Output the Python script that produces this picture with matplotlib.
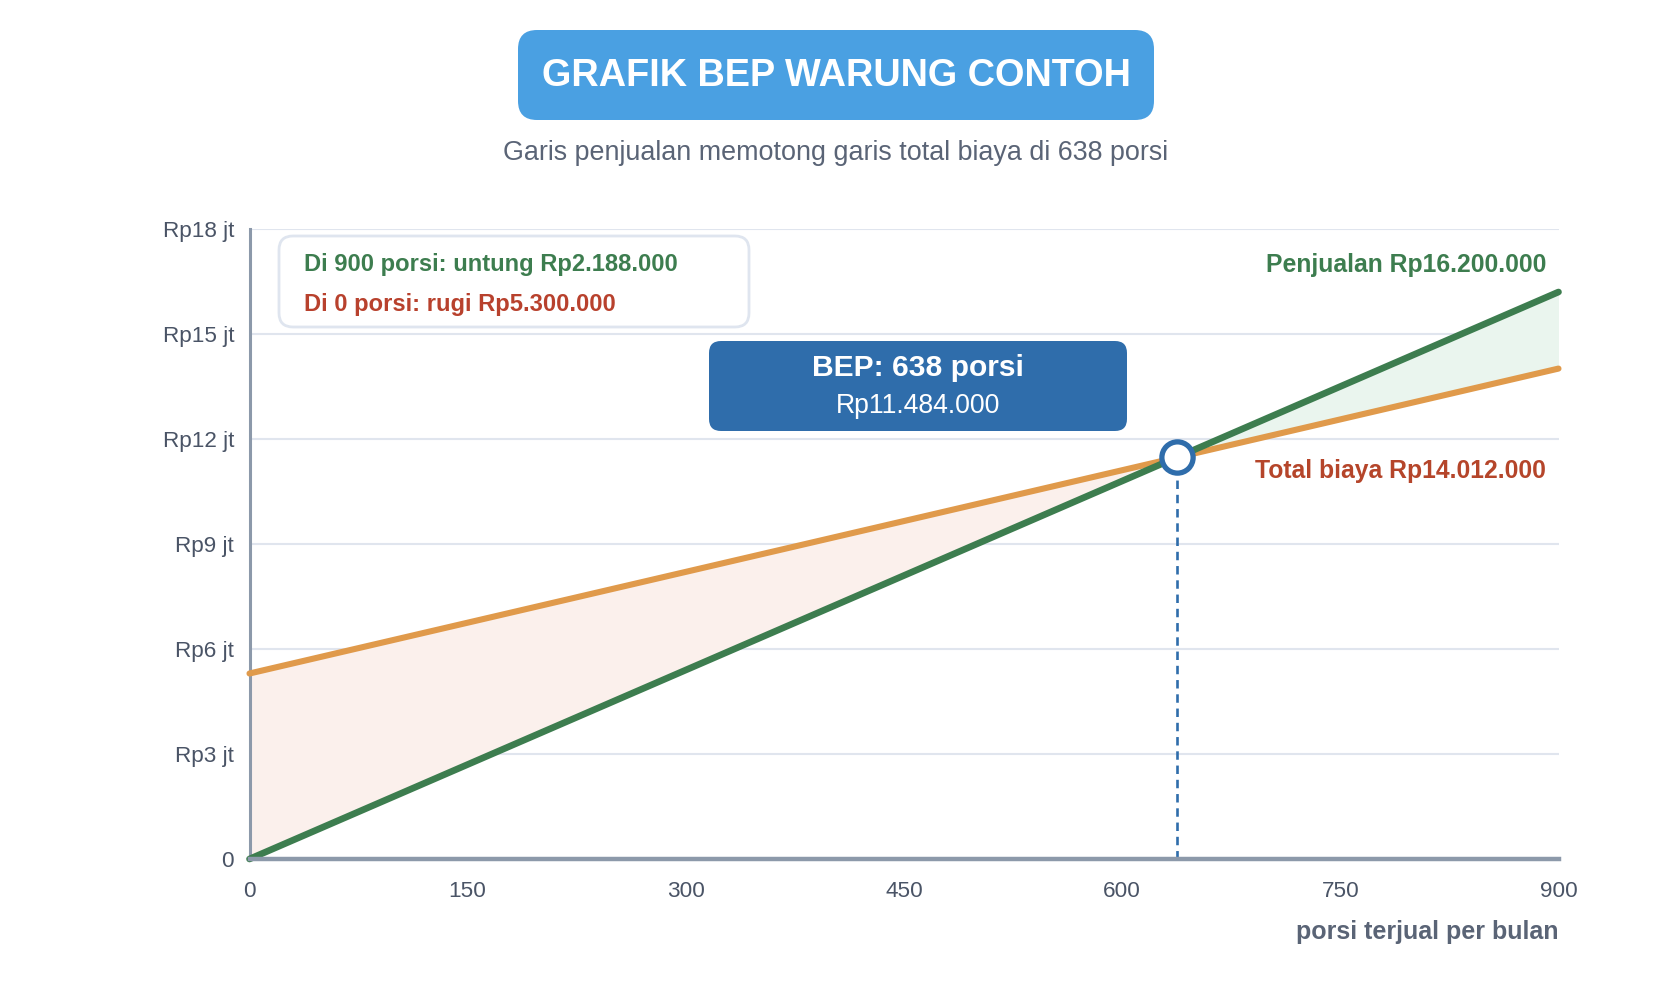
import matplotlib

matplotlib.use("Agg")
import matplotlib.pyplot as plt
from matplotlib.patches import FancyBboxPatch
from matplotlib.ticker import FuncFormatter

plt.rcParams["font.family"] = ["Liberation Sans", "DejaVu Sans"]

# data
porsi = [0, 900]
penjualan = [0, 16_200_000]
total_biaya = [5_300_000, 14_012_000]
bep_porsi = 638
bep_rp = 11_484_000
x_ticks = [0, 150, 300, 450, 600, 750, 900]
y_ticks = [0, 3e6, 6e6, 9e6, 12e6, 15e6, 18e6]

W, H = 1672, 1000
GREEN = "#3d7d4f"
ORANGE = "#e09a4b"
RED = "#b8412d"
BLUE = "#2f6dab"
GRAY = "#5a6476"


def px(x, y):
    return x / W, 1 - y / H


def rbox(fig, x0, y0, x1, y1, r, face, edge="none", lw=0, z=5):
    # rounded box given in pixel coords (top-left origin)
    fx, fy = px(x0, y1)
    box = FancyBboxPatch(
        (fx, fy), (x1 - x0) / W, (y1 - y0) / H,
        boxstyle=f"round,pad=0,rounding_size={r / W}",
        mutation_aspect=W / H, transform=fig.transFigure,
        facecolor=face, edgecolor=edge, linewidth=lw, zorder=z,
    )
    fig.add_artist(box)


fig = plt.figure(figsize=(W / 100, H / 100), dpi=100)
ax = fig.add_axes([249.5 / W, 1 - 859 / H, 1309 / W, 630 / H])

# shaded loss / profit zones
ax.fill_between(porsi, penjualan, total_biaya,
                where=[c >= s for c, s in zip(total_biaya, penjualan)],
                interpolate=True, color="#fbf0ec", lw=0, zorder=1)
ax.fill_between(porsi, penjualan, total_biaya,
                where=[s >= c for c, s in zip(total_biaya, penjualan)],
                interpolate=True, color="#eaf5ee", lw=0, zorder=1)

ax.plot(porsi, total_biaya, color=ORANGE, lw=4.4, solid_capstyle="round",
        clip_on=False, zorder=3)
ax.plot(porsi, penjualan, color=GREEN, lw=4.8, solid_capstyle="round",
        clip_on=False, zorder=4)

ax.plot([bep_porsi, bep_porsi], [0, bep_rp], color=BLUE, lw=1.9,
        ls=(0, (3.2, 2.2)), zorder=4)
ax.plot([bep_porsi], [bep_rp], marker="o", ms=22.5, mfc="white", mec=BLUE,
        mew=3.8, zorder=6, clip_on=False)

ax.set_xlim(0, 900)
ax.set_ylim(0, 18e6)
ax.set_xticks(x_ticks)
ax.set_yticks(y_ticks)
ax.yaxis.set_major_formatter(
    FuncFormatter(lambda v, p: "0" if v == 0 else f"Rp{v / 1e6:.0f} jt"))
ax.tick_params(axis="both", length=0, labelsize=16.2, labelcolor="#4a5466")
ax.tick_params(axis="y", pad=11)
ax.tick_params(axis="x", pad=15.5)
ax.grid(axis="y", color="#e0e5ee", lw=1.5, zorder=0)
ax.set_axisbelow(True)
for s in ["top", "right"]:
    ax.spines[s].set_visible(False)
ax.spines["left"].set_color("#8c99aa")
ax.spines["left"].set_linewidth(2.2)
ax.spines["bottom"].set_color("#8c99aa")
ax.spines["bottom"].set_linewidth(3.2)
ax.spines["bottom"].set_zorder(5)

# title block
rbox(fig, 518, 30, 1154, 120, 19, "#4aa0e2")
fig.text(*px(836, 76), "GRAFIK BEP WARUNG CONTOH", ha="center", va="center",
         fontsize=27.3, fontweight="bold", color="white", zorder=6)
fig.text(*px(836, 153), "Garis penjualan memotong garis total biaya di 638 porsi",
         ha="center", va="center", fontsize=19.4, color=GRAY)

# summary box
rbox(fig, 279, 236, 749, 327, 14, "white", edge="#dfe5ef", lw=2)
fig.text(*px(304, 265), "Di 900 porsi: untung Rp2.188.000", ha="left",
         va="center", fontsize=17.1, fontweight="bold", color=GREEN, zorder=6)
fig.text(*px(304, 304), "Di 0 porsi: rugi Rp5.300.000", ha="left",
         va="center", fontsize=17.1, fontweight="bold", color=RED, zorder=6)

# BEP label
rbox(fig, 709, 341, 1127, 431, 12, BLUE)
fig.text(*px(918, 368), "BEP: 638 porsi", ha="center", va="center",
         fontsize=21.6, fontweight="bold", color="white", zorder=6)
fig.text(*px(918, 406), "Rp11.484.000", ha="center", va="center",
         fontsize=19.2, color="white", zorder=6)

# line labels
fig.text(*px(1546, 265), "Penjualan Rp16.200.000", ha="right", va="center",
         fontsize=17.8, fontweight="bold", color=GREEN)
fig.text(*px(1546, 471), "Total biaya Rp14.012.000", ha="right", va="center",
         fontsize=17.8, fontweight="bold", color="#b5452a")

fig.text(*px(1558.5, 932), "porsi terjual per bulan", ha="right", va="center",
         fontsize=18, fontweight="bold", color=GRAY)

fig.savefig("out.png", dpi=100)
